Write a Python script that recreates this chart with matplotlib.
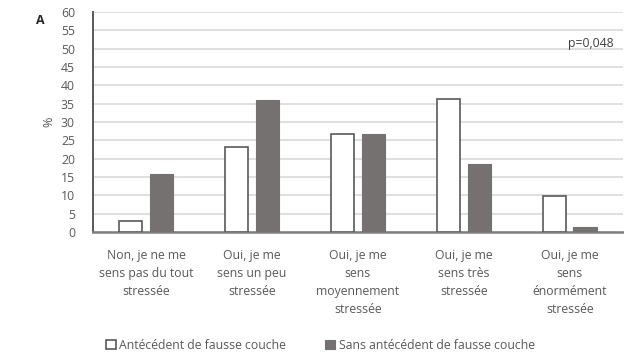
import numpy as np
import matplotlib.pyplot as plt

categories = ["Non, je ne me\nsens pas du tout\nstressée",
              "Oui, je me\nsens un peu\nstressée",
              "Oui, je me\nsens\nmoyennement\nstressée",
              "Oui, je me\nsens très\nstressée",
              "Oui, je me\nsens\nénormément\nstressée"]
avec_fc = [3.0, 23.3, 26.7, 36.4, 9.9]
sans_fc = [15.8, 36.0, 26.7, 18.5, 1.4]
yticks = list(range(0, 61, 5))

txt = '#595959'
plt.rcParams['font.family'] = ['Open Sans', 'DejaVu Sans']

fig = plt.figure(figsize=(6.24, 3.57), dpi=100)
ax = fig.add_axes([0.149, 0.350, 0.849, 0.616])

x = np.arange(len(categories))
w = 0.22
b1 = ax.bar(x - 0.145, avec_fc, w, color='white', edgecolor='#595959', linewidth=1.2,
            label='Antécédent de fausse couche', zorder=3)
b2 = ax.bar(x + 0.145, sans_fc, w, color='#767171', edgecolor='#767171', linewidth=0.8,
            label='Sans antécédent de fausse couche', zorder=3)

ax.set_xlim(-0.5, 4.5)
ax.set_ylim(0, 60)
ax.set_yticks(yticks)
ax.yaxis.grid(True, color='#d9d9d9', linewidth=1.2, zorder=0)
ax.set_xticks(x)
ax.set_xticklabels(categories, fontsize=8.8, color=txt, linespacing=1.5)
ax.tick_params(axis='y', length=0, labelsize=8.8, labelcolor=txt, pad=13)
ax.tick_params(axis='x', length=0, pad=12)
for s in ['top', 'right']:
    ax.spines[s].set_visible(False)
ax.spines['left'].set_color('#595959')
ax.spines['left'].set_linewidth(1.4)
ax.spines['bottom'].set_color('#7f7f7f')
ax.spines['bottom'].set_linewidth(1.8)
ax.set_ylabel('%', color=txt, fontsize=9, labelpad=4)

ax.text(4.2, 51.5, 'p=0,048', fontsize=8.8, color='#404040', ha='center', va='center')
fig.text(0.064, 0.942, 'A', fontsize=9, fontweight='bold', color='#262626', ha='center', va='center')

fig.legend(handles=[b1, b2], loc='center left', bbox_to_anchor=(0.152, 0.033), ncol=2,
           frameon=False, fontsize=8.8, labelcolor=txt, handlelength=0.8, handleheight=0.8,
           handletextpad=0.3, columnspacing=3.2)

fig.savefig('out.png', dpi=100)
